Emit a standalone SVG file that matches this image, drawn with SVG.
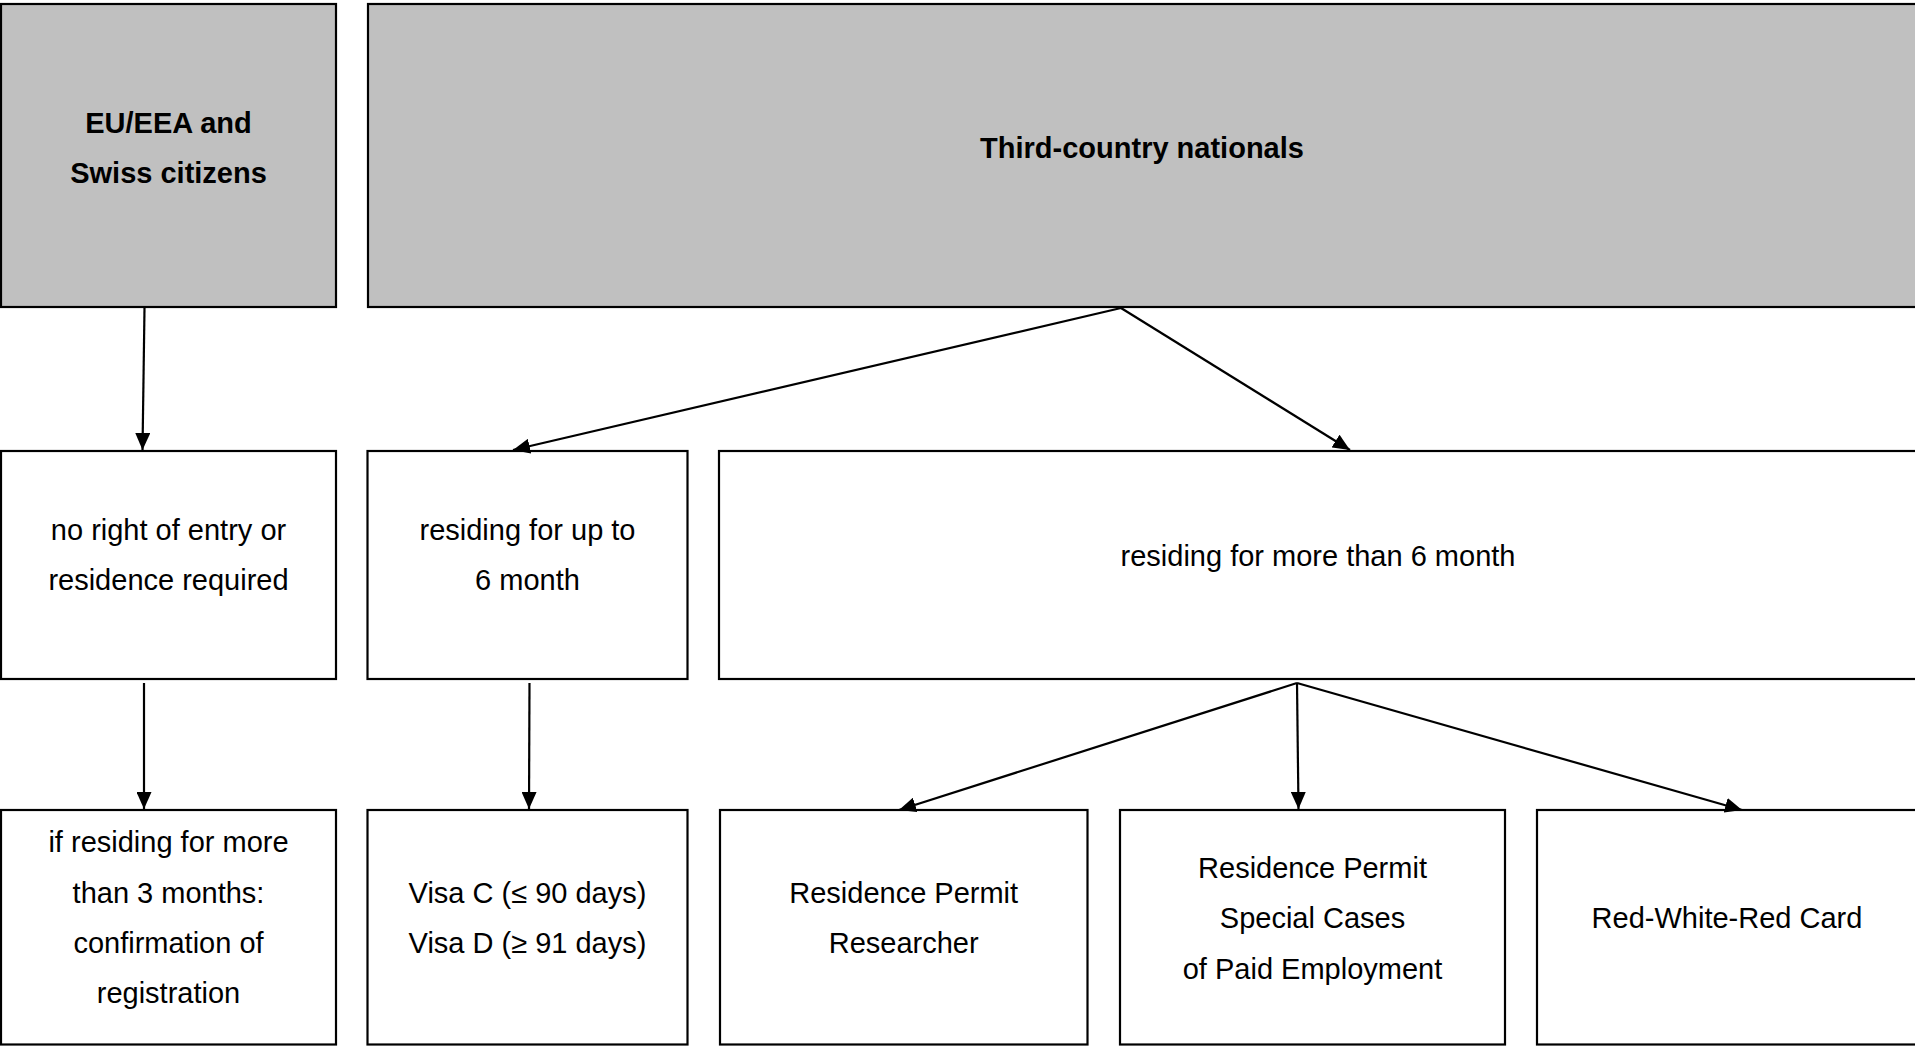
<svg xmlns="http://www.w3.org/2000/svg" width="1915" height="1046" viewBox="0 0 1915 1046">
  <defs>
    <style>
      .box { fill: #ffffff; stroke: #000000; stroke-width: 2.2; }
      .hdr { fill: #c0c0c0; stroke: #000000; stroke-width: 2.2; }
      .t { font-family: "Liberation Sans", Arial, sans-serif; font-size: 29px; fill: #000000; text-anchor: middle; }
      .b { font-weight: bold; }
      .conn { stroke: #000000; stroke-width: 2.2; fill: none; marker-end: url(#arrow); }
    </style>
    <marker id="arrow" markerUnits="userSpaceOnUse" markerWidth="17" markerHeight="15" refX="17" refY="7.5" orient="auto">
      <path d="M0,0 L17,7.5 L0,15 Z" fill="#000000"/>
    </marker>
  </defs>
  <rect x="0" y="0" width="1915" height="1046" fill="#ffffff"/>

  <g id="eu">
    <rect class="hdr" x="1" y="4" width="335" height="303"/>
    <text class="t b" x="168.5" y="133">EU/EEA and</text>
    <text class="t b" x="168.5" y="183">Swiss citizens</text>
  </g>
  <g id="third">
    <rect class="hdr" x="368" y="4" width="1552" height="303"/>
    <text class="t b" x="1142" y="158">Third-country nationals</text>
  </g>

  <g id="noright">
    <rect class="box" x="1" y="451" width="335" height="228"/>
    <text class="t" x="168.5" y="540">no right of entry or</text>
    <text class="t" x="168.5" y="590">residence required</text>
  </g>
  <g id="upto6">
    <rect class="box" x="367.5" y="451" width="320" height="228"/>
    <text class="t" x="527.5" y="540">residing for up to</text>
    <text class="t" x="527.5" y="590">6 month</text>
  </g>
  <g id="more6">
    <rect class="box" x="719" y="451" width="1200" height="228"/>
    <text class="t" x="1318" y="566">residing for more than 6 month</text>
  </g>

  <g id="registration">
    <rect class="box" x="1" y="810" width="335" height="234.5"/>
    <text class="t" x="168.5" y="852">if residing for more</text>
    <text class="t" x="168.5" y="903">than 3 months:</text>
    <text class="t" x="168.5" y="953">confirmation of</text>
    <text class="t" x="168.5" y="1003">registration</text>
  </g>
  <g id="visa">
    <rect class="box" x="367.5" y="810" width="320" height="234.5"/>
    <text class="t" x="527.5" y="903">Visa C (≤ 90 days)</text>
    <text class="t" x="527.5" y="953">Visa D (≥ 91 days)</text>
  </g>
  <g id="researcher">
    <rect class="box" x="720" y="810" width="367.5" height="234.5"/>
    <text class="t" x="903.7" y="903">Residence Permit</text>
    <text class="t" x="903.7" y="953">Researcher</text>
  </g>
  <g id="special">
    <rect class="box" x="1120" y="810" width="385" height="234.5"/>
    <text class="t" x="1312.5" y="878">Residence Permit</text>
    <text class="t" x="1312.5" y="928">Special Cases</text>
    <text class="t" x="1312.5" y="979">of Paid Employment</text>
  </g>
  <g id="rwr">
    <rect class="box" x="1537" y="810" width="382" height="234.5"/>
    <text class="t" x="1727" y="928">Red-White-Red Card</text>
  </g>

  <g id="connectors">
    <line class="conn" x1="144.5" y1="308" x2="142.5" y2="450"/>
    <line class="conn" x1="1121" y1="308" x2="513" y2="450"/>
    <line class="conn" x1="1121" y1="308" x2="1350" y2="450"/>
    <line class="conn" x1="144" y1="683" x2="144" y2="809"/>
    <line class="conn" x1="529.5" y1="683" x2="529" y2="809"/>
    <line class="conn" x1="1297" y1="683" x2="899" y2="810"/>
    <line class="conn" x1="1297" y1="683" x2="1298.5" y2="809"/>
    <line class="conn" x1="1297" y1="683" x2="1742" y2="810"/>
  </g>
</svg>
